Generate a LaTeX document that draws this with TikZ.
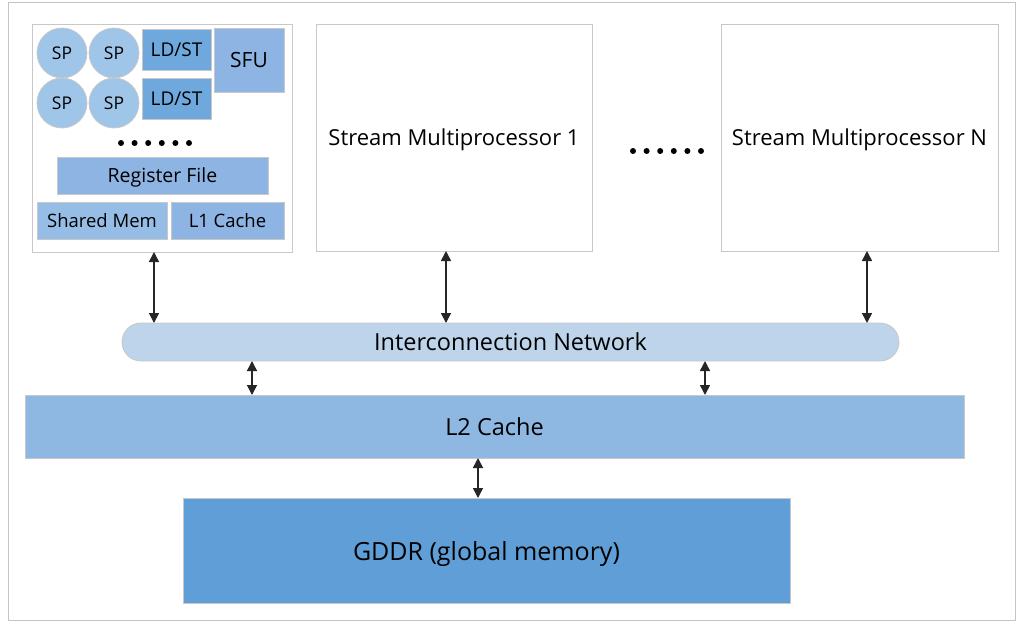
\documentclass[tikz,border=0pt]{standalone}
\usepackage{fontspec}
\newfontfamily\uifont{Open Sans}
\usetikzlibrary{arrows.meta}
\definecolor{framegray}{HTML}{C4C4C4}
\definecolor{edgegray}{HTML}{C8C8C8}
\definecolor{spfill}{HTML}{9FC5E8}
\definecolor{ldstfill}{HTML}{6FA8DC}
\definecolor{unitfill}{HTML}{8DB4E2}
\definecolor{sharedfill}{HTML}{95BDE6}
\definecolor{icfill}{HTML}{BDD4EA}
\definecolor{ltwofill}{HTML}{8EB8E1}
\definecolor{gddrfill}{HTML}{5F9ED6}
\definecolor{arrowdark}{HTML}{262626}
\newcommand{\fs}[1]{\fontsize{#1}{#1}\selectfont}
\tikzset{
  blk/.style={draw=edgegray, line width=0.8pt, inner sep=0pt, outer sep=0pt,
    font=\uifont, text=black, text depth=0pt},
  smbox/.style={blk, fill=white},
  spcircle/.style={blk, circle, fill=spfill, minimum size=50pt, font=\uifont\fs{17.5}},
  ldst/.style={blk, fill=ldstfill, minimum width=69pt, minimum height=41pt, font=\uifont\fs{19}},
  bi/.style={draw=arrowdark, line width=1.5pt,
    {Triangle[length=10pt,width=10pt]}-{Triangle[length=10pt,width=10pt]}},
  dot/.style={circle, fill=black, inner sep=0pt, minimum size=6pt}
}
\begin{document}
\begin{tikzpicture}[x=1pt,y=-1pt]
\useasboundingbox (0,0) rectangle (1018,623);
\draw[framegray, line width=0.8pt] (8,2) rectangle (1015,620);

% streaming multiprocessor 0 with its units
\node[smbox, minimum width=260pt, minimum height=228pt] (sm0) at (162,138) {};
\node[spcircle] (sp1) at (62,53) {SP};
\node[spcircle] (sp2) at (114,53) {SP};
\node[spcircle] (sp3) at (62,103) {SP};
\node[spcircle] (sp4) at (114,103) {SP};
\node[ldst] (ls1) at (176.5,49.5) {LD/ST};
\node[ldst] (ls2) at (176.5,98.5) {LD/ST};
\node[blk, fill=unitfill, minimum width=70pt, minimum height=64pt, font=\uifont\fs{21}] (sfu) at (249,60) {SFU};
\foreach \i in {0,...,5} \node[dot] (d\i) at (121+13.6*\i,143) {};
\node[blk, fill=unitfill, minimum width=211pt, minimum height=37pt, font=\uifont\fs{19.5}] (reg) at (162.5,175.5) {Register File};
\node[blk, fill=sharedfill, minimum width=130pt, minimum height=37pt, font=\uifont\fs{18.5}] (smem) at (102,220.5) {Shared Mem};
\node[blk, fill=unitfill, minimum width=113pt, minimum height=37pt, font=\uifont\fs{18.5}] (l1) at (227.5,220.5) {L1 Cache};

% further multiprocessors
\node[smbox, minimum width=276pt, minimum height=227pt, font=\uifont\fs{22}] (sm1) at (454,137.5) {Stream Multiprocessor 1};
\node[smbox, minimum width=277pt, minimum height=227pt, font=\uifont\fs{22}] (smn) at (859.5,137.5) {Stream Multiprocessor N};
\foreach \i in {0,...,5} \node[dot] (e\i) at (633+13.6*\i,151) {};

% shared memory hierarchy
\node[blk, fill=icfill, rounded corners=19pt, minimum width=777pt, minimum height=38pt, font=\uifont\fs{23.5}] (ic) at (510.5,342) {Interconnection Network};
\node[blk, fill=ltwofill, minimum width=939pt, minimum height=63pt, font=\uifont\fs{23.5}] (l2) at (494.5,426.5) {L2 Cache};
\node[blk, fill=gddrfill, minimum width=607pt, minimum height=105pt, font=\uifont\fs{25}] (gddr) at (486.5,550.5) {GDDR (global memory)};

% links
\draw[bi] (sm0.south -| 154,0) -- (ic.north -| 154,0);
\draw[bi] (sm1.south -| 446,0) -- (ic.north -| 446,0);
\draw[bi] (smn.south -| 867,0) -- (ic.north -| 867,0);
\draw[bi] (ic.south -| 252,0) -- (l2.north -| 252,0);
\draw[bi] (ic.south -| 705,0) -- (l2.north -| 705,0);
\draw[bi] (l2.south -| 478,0) -- (gddr.north -| 478,0);
\end{tikzpicture}
\end{document}
